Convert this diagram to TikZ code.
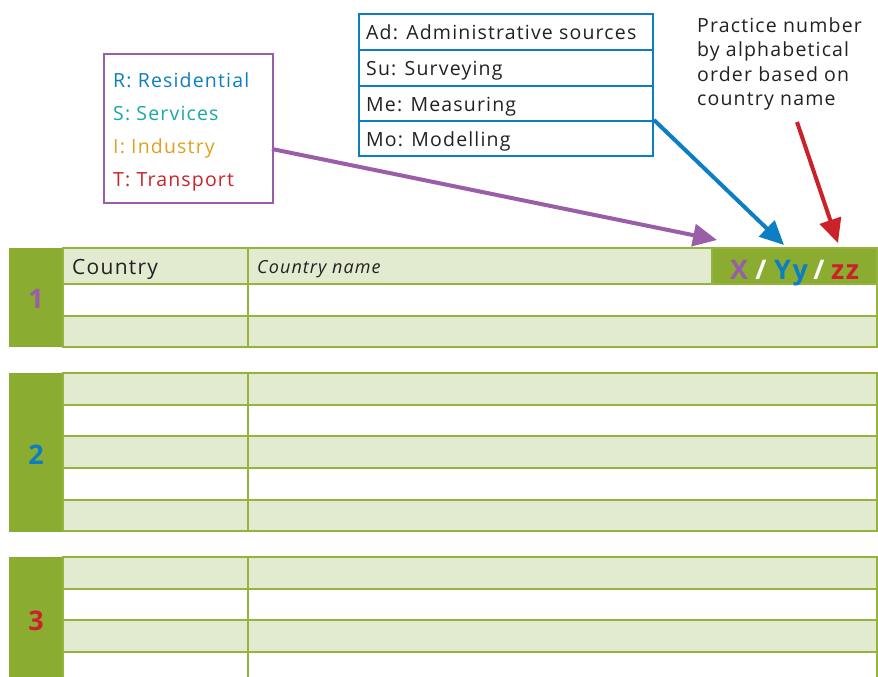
\documentclass[tikz,border=0pt]{standalone}
\usepackage{fontspec}
\setmainfont[LetterSpace=6]{Open Sans}
\usetikzlibrary{arrows.meta}
\definecolor{dkgreen}{HTML}{8AAC30}
\definecolor{lngreen}{HTML}{94B43E}
\definecolor{ltgreen}{HTML}{E2EACF}
\definecolor{cpurple}{HTML}{9A5EA8}
\definecolor{cblue}{HTML}{0D7EC4}
\definecolor{cteal}{HTML}{1AA8A6}
\definecolor{corange}{HTML}{E0A021}
\definecolor{cred}{HTML}{CB2229}
\definecolor{ctext}{HTML}{222222}
\tikzset{
  cell/.style={draw=lngreen, line width=2.5pt, inner sep=0pt, outer sep=0pt, anchor=north west},
  lcell/.style={cell, fill=ltgreen},
  wcell/.style={cell, fill=white},
  block/.style={fill=dkgreen, inner sep=0pt, outer sep=0pt, anchor=north west},
  num/.style={font=\fontsize{27}{27}\selectfont\bfseries},
  code/.style={font=\fontsize{27}{27}\selectfont\bfseries, inner sep=0pt, anchor=base},
  bluerow/.style={draw=cblue, line width=2pt, fill=white, inner sep=0pt, anchor=north west, minimum width=294pt, minimum height=36pt},
  bluetxt/.style={font=\fontsize{19.5}{19.5}\selectfont, text=ctext, anchor=base west, inner sep=0pt},
  legtxt/.style={font=\fontsize{19.5}{19.5}\selectfont, anchor=base west, inner sep=0pt},
  arr/.style={line width=4pt, -{Triangle[length=24pt,width=22pt]}}
}
\begin{document}
\begin{tikzpicture}[x=1pt,y=-1pt]
\useasboundingbox (0,0) rectangle (878,677);
\clip (0,0) rectangle (878,677);
\fill[white] (0,0) rectangle (878,677);

% ---------- Table 1 ----------
\node[block, minimum width=54pt, minimum height=99pt] (b1) at (9,248) {};
\node[lcell, minimum width=185pt, minimum height=36pt] (t1a1) at (63,248) {};
\node[lcell, minimum width=464pt, minimum height=36pt] (t1b1) at (248,248) {};
\node[cell, fill=dkgreen, minimum width=165pt, minimum height=36pt] (t1c1) at (712,248) {};
\node[wcell, minimum width=185pt, minimum height=32pt] (t1a2) at (63,284) {};
\node[wcell, minimum width=629pt, minimum height=32pt] (t1b2) at (248,284) {};
\node[lcell, minimum width=185pt, minimum height=31pt] (t1a3) at (63,316) {};
\node[lcell, minimum width=629pt, minimum height=31pt] (t1b3) at (248,316) {};
\node[font=\fontsize{21}{21}\selectfont, text=ctext, anchor=base west, inner sep=0pt] (country) at (72,274) {Country};
\node[font=\fontsize{18}{18}\selectfont\itshape, text=ctext, anchor=base west, inner sep=0pt] (cname) at (257,273) {Country name};
\node[num, text=cpurple] (n1) at (36,299) {1};

\node[code, text=cpurple] (cx) at (739,279) {X};
\node[code, text=white] (s1) at (761,279) {/};
\node[code, text=cblue] (cy) at (791,279) {Yy};
\node[code, text=white] (s2) at (819,279) {/};
\node[code, text=cred] (cz) at (845,279) {zz};

% ---------- Table 2 ----------
\node[block, minimum width=54pt, minimum height=159pt] (b2) at (9,373) {};
\foreach \y/\h/\s [count=\i] in {373/32/lcell,405/31/wcell,436/32/lcell,468/32/wcell,500/31/lcell}{
  \node[\s, minimum width=185pt, minimum height=\h pt] (t2a\i) at (63,\y) {};
  \node[\s, minimum width=629pt, minimum height=\h pt] (t2b\i) at (248,\y) {};
}
\node[num, text=cblue] (n2) at (36,455) {2};

% ---------- Table 3 ----------
\node[block, minimum width=54pt, minimum height=130pt] (b3) at (9,557) {};
\foreach \y/\h/\s [count=\i] in {557/32/lcell,589/31/wcell,620/32/lcell,652/32/wcell}{
  \node[\s, minimum width=185pt, minimum height=\h pt] (t3a\i) at (63,\y) {};
  \node[\s, minimum width=629pt, minimum height=\h pt] (t3b\i) at (248,\y) {};
}
\node[num, text=cred] (n3) at (36,621) {3};

% ---------- Legend (purple) ----------
\node[draw=cpurple, line width=2pt, fill=white, anchor=north west, minimum width=169pt, minimum height=149pt, inner sep=0pt] (legend) at (103,53) {};
\node[legtxt, text=cblue] (lr) at (113,87) {R: Residential};
\node[legtxt, text=cteal] (ls) at (113,120) {S: Services};
\node[legtxt, text=corange] (li) at (113,153) {I: Industry};
\node[legtxt, text=cred] (lt) at (113,186) {T: Transport};

% ---------- Method box (blue) ----------
\node[bluerow, minimum height=36pt] (ad) at (358,13) {};
\node[bluerow, minimum height=36pt] (su) at (358,49) {};
\node[bluerow, minimum height=35pt] (me) at (358,85) {};
\node[bluerow, minimum height=35pt] (mo) at (358,120) {};
\node[bluetxt] (adt) at (366,40) {Ad: Administrative sources};
\node[bluetxt] (sut) at (366,76) {Su: Surveying};
\node[bluetxt] (met) at (366,111) {Me: Measuring};
\node[bluetxt] (mot) at (366,146) {Mo: Modelling};

% ---------- Practice text ----------
\node[font=\fontsize{19.5}{24.5}\selectfont, text=ctext, align=left, anchor=north west, inner sep=0pt] (practice) at (697,17) {Practice number\\by alphabetical\\order based on\\country name};

% ---------- Arrows ----------
\coordinate (pstart) at (272,149);
\coordinate (ptip) at (717,240);
\coordinate (btip) at (784,245);
\coordinate (rstart) at (797,122);
\coordinate (rtip) at (838,243);
\draw[arr, cpurple] (pstart) -- (ptip);
\draw[arr, cblue] (mo.north east) -- (btip);
\draw[arr, cred] (rstart) -- (rtip);
\end{tikzpicture}
\end{document}
